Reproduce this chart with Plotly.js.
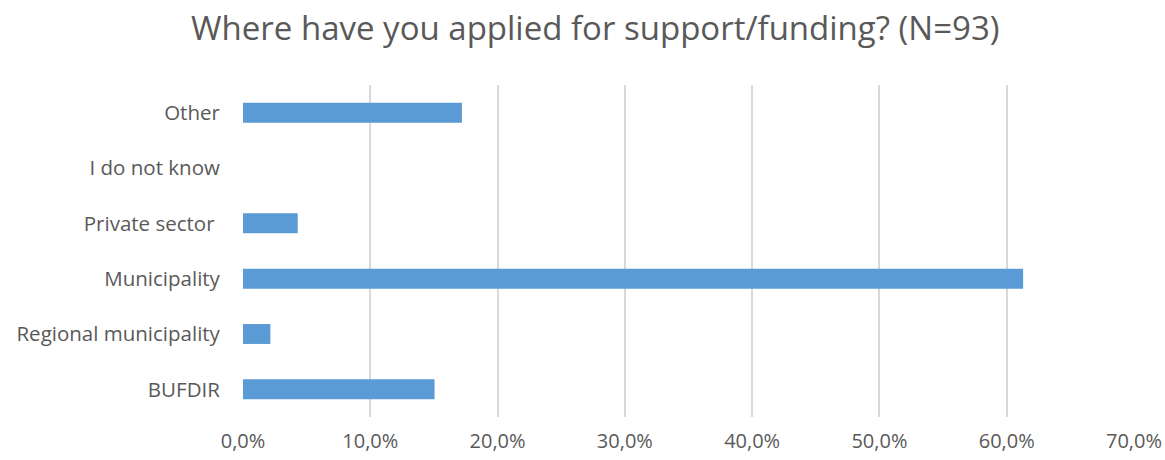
<!DOCTYPE html>
<html>
<head>
<meta charset="utf-8">
<script src="https://cdn.plot.ly/plotly-3.0.1.min.js"></script>
<style>html,body{margin:0;padding:0;background:#fff;}#chart{width:1165px;height:460px;}</style>
</head>
<body>
<div id="chart"></div>
<script>
const categories = ["BUFDIR", "Regional municipality", "Municipality", "Private sector ", "I do not know", "Other"];
const shares = [0.1505, 0.0215, 0.6129, 0.0430, 0.0, 0.1720];
const xTicks = [0, 0.1, 0.2, 0.3, 0.4, 0.5, 0.6, 0.7];

const txt = '#595959';
const data = [{
  type: 'bar',
  orientation: 'h',
  y: categories,
  x: shares,
  marker: {color: '#5B9BD5', line: {width: 0}},
  hoverinfo: 'x+y'
}];
const layout = {
  width: 1165, height: 460,
  margin: {l: 243, r: 31, t: 85, b: 43},
  paper_bgcolor: '#fff', plot_bgcolor: '#fff',
  separators: ', ',
  font: {family: '"Open Sans", Lato, sans-serif', color: txt, size: 20},
  title: {text: 'Where have you applied for support/funding? (N=93)', font: {size: 33, color: txt}, x: 0.511, xanchor: 'center', y: 0.938, yanchor: 'middle'},
  bargap: 0.64,
  showlegend: false,
  xaxis: {
    range: [0, 0.7], tickvals: xTicks, tickformat: '.1%',
    showgrid: true, gridcolor: '#D9D9D9', gridwidth: 2,
    zeroline: false, showline: false,
    ticks: 'outside', ticklen: 6, tickcolor: 'rgba(0,0,0,0)',
    tickfont: {size: 20, color: txt}, fixedrange: true
  },
  yaxis: {
    type: 'category', categoryorder: 'array', categoryarray: categories,
    showgrid: false, zeroline: false, showline: false,
    ticks: 'outside', ticklen: 18, tickcolor: 'rgba(0,0,0,0)',
    tickfont: {size: 20.5, color: txt}, fixedrange: true
  }
};
Plotly.newPlot('chart', data, layout, {displayModeBar: false, staticPlot: true});
</script>
</body>
</html>
